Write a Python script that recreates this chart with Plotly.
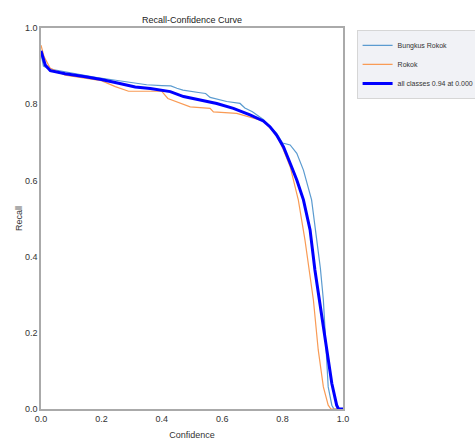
import plotly.graph_objects as go

# ---- data ----
conf_bungkus = [0.0, 0.008, 0.025, 0.075, 0.13, 0.185, 0.24, 0.30, 0.35, 0.40, 0.43, 0.45, 0.47,
                0.527, 0.545, 0.56, 0.615, 0.659, 0.675, 0.70, 0.736, 0.78, 0.80, 0.825, 0.847,
                0.869, 0.885, 0.896, 0.913, 0.925, 0.935, 0.944, 0.951, 0.963, 0.97, 1.0]
recall_bungkus = [0.934, 0.90, 0.893, 0.885, 0.878, 0.870, 0.864, 0.857, 0.851, 0.849, 0.848, 0.842, 0.837,
                  0.830, 0.828, 0.818, 0.807, 0.802, 0.790, 0.780, 0.760, 0.724, 0.698, 0.693, 0.671,
                  0.627, 0.580, 0.549, 0.444, 0.37, 0.286, 0.155, 0.058, 0.01, 0.0, 0.0]

conf_rokok = [0.0, 0.01, 0.03, 0.08, 0.2, 0.246, 0.29, 0.40, 0.42, 0.483, 0.494, 0.56, 0.571,
              0.648, 0.692, 0.736, 0.78, 0.803, 0.825, 0.841, 0.852, 0.874, 0.89, 0.902, 0.918,
              0.935, 0.951, 0.96, 1.0]
recall_rokok = [0.955, 0.925, 0.895, 0.876, 0.862, 0.846, 0.834, 0.834, 0.815, 0.798, 0.793, 0.789, 0.780,
                0.776, 0.766, 0.756, 0.72, 0.68, 0.636, 0.583, 0.549, 0.444, 0.36, 0.286, 0.155,
                0.058, 0.01, 0.0, 0.0]

conf_all = [0.0, 0.014, 0.031, 0.08, 0.147, 0.2, 0.257, 0.312, 0.362, 0.428, 0.472, 0.527, 0.582,
            0.637, 0.692, 0.736, 0.758, 0.78, 0.803, 0.825, 0.847, 0.869, 0.891, 0.907, 0.924,
            0.935, 0.951, 0.963, 0.979, 0.985, 1.0]
recall_all = [0.940, 0.903, 0.888, 0.880, 0.872, 0.865, 0.855, 0.845, 0.841, 0.833, 0.820, 0.811, 0.802,
              0.789, 0.772, 0.756, 0.741, 0.719, 0.688, 0.645, 0.601, 0.549, 0.47, 0.365, 0.275,
              0.216, 0.129, 0.067, 0.01, 0.0, 0.0]

names = ["Bungkus Rokok", "Rokok", "all classes 0.94 at 0.000"]
title_text = "Recall-Confidence Curve"
x_title = "Confidence"
y_title = "Recall"

FONT = "Liberation Sans, Arial, sans-serif"

fig = go.Figure()
fig.add_trace(go.Scatter(x=conf_bungkus, y=recall_bungkus, mode="lines", name=names[0],
                         line=dict(color="#5b9bd0", width=1.2)))
fig.add_trace(go.Scatter(x=conf_rokok, y=recall_rokok, mode="lines", name=names[1],
                         line=dict(color="#f99b55", width=1.2)))
fig.add_trace(go.Scatter(x=conf_all, y=recall_all, mode="lines", name=names[2],
                         line=dict(color="#0000ff", width=3)))

axis_common = dict(range=[0, 1], dtick=0.2, tick0=0, tickformat=".1f", showgrid=False,
                   zeroline=False, showline=True, linecolor="#aaaaaa", linewidth=1.5,
                   mirror=True, ticks="", tickfont=dict(size=9, color="#333333", family=FONT),
                   title_font=dict(size=9, color="#333333", family=FONT))

fig.update_layout(
    width=475, height=440,
    margin=dict(l=41, r=132, t=28, b=31, autoexpand=False),
    plot_bgcolor="white", paper_bgcolor="white",
    font=dict(family=FONT, size=9, color="#333333"),
    title=dict(text=title_text, x=0.5, xref="paper", xanchor="center",
               y=1 - 20 / 440, yref="container", yanchor="middle",
               font=dict(size=9, color="#222222", family=FONT)),
    legend=dict(x=1.045, y=0.995, xanchor="left", yanchor="top",
                bgcolor="#f1f2f6", bordercolor="#d6d6d6", borderwidth=1,
                font=dict(size=7, color="#333333", family=FONT), itemwidth=30),
    showlegend=True,
)
fig.update_xaxes(**axis_common, title_text=x_title, title_standoff=9)
fig.update_yaxes(**axis_common, title_text=y_title, title_standoff=1)

fig.write_html("out.html")
